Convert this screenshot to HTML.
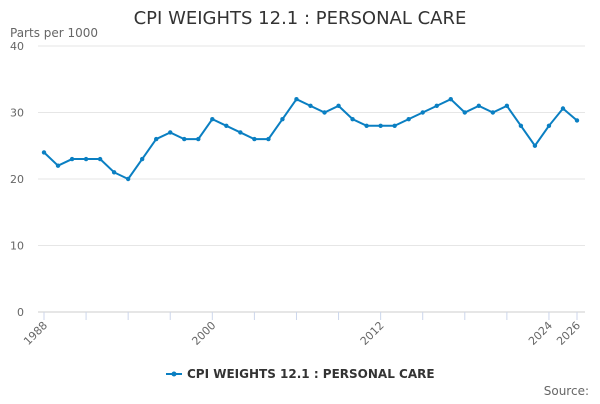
<!DOCTYPE html>
<html><head><meta charset="utf-8"><style>
body{margin:0;width:600px;height:400px;background:#fff;font-family:"DejaVu Sans","Liberation Sans",sans-serif;overflow:hidden}
svg text{font-family:"DejaVu Sans","Liberation Sans",sans-serif}
</style></head><body>
<svg id="chart" width="600" height="400">
<text x="300" y="24" text-anchor="middle" font-size="18" fill="#333">CPI WEIGHTS 12.1 : PERSONAL CARE</text>
<text x="10" y="37" font-size="12" fill="#666">Parts per 1000</text>
<g id="grid"></g><g id="xaxis"></g><g id="series"></g>
<g>
<line x1="166" y1="374" x2="182" y2="374" stroke="#0a7fc2" stroke-width="2"/>
<circle cx="174" cy="374" r="2.5" fill="#0a7fc2"/>
<text x="187" y="378" font-size="12" font-weight="bold" fill="#333">CPI WEIGHTS 12.1 : PERSONAL CARE</text>
</g>
<text x="589" y="395" text-anchor="end" font-size="12" fill="#666">Source:</text>
</svg>
<script>
const years=[1988,1989,1990,1991,1992,1993,1994,1995,1996,1997,1998,1999,2000,2001,2002,2003,2004,2005,2006,2007,2008,2009,2010,2011,2012,2013,2014,2015,2016,2017,2018,2019,2020,2021,2022,2023,2024,2025,2026];
const values=[24,22,23,23,23,21,20,23,26,27,26,26,29,28,27,26,26,29,32,31,30,31,29,28,28,28,29,30,31,32,30,31,30,31,28,25,28,30.6,28.8];
const yTicks=[0,10,20,30,40];
const xLabels=[1988,2000,2012,2024,2026];
const xTicks=[1988,1991,1994,1997,2000,2003,2006,2009,2012,2015,2018,2021,2024,2026];
const NS="http://www.w3.org/2000/svg";
const x=v=>44+(v-1988)*(533/38);
const y=v=>312-v*6.65;
function mk(t,a,p){const e=document.createElementNS(NS,t);for(const k in a)e.setAttribute(k,a[k]);p.appendChild(e);return e;}
const g=document.getElementById('grid');
yTicks.forEach(v=>{
const l=mk('line',{x1:38,x2:585,y1:y(v),y2:y(v),stroke:v===0?'#ccc':'#e6e6e6'},g);


const t=mk('text',{x:24,y:y(v)+4,'text-anchor':'end','font-size':11,fill:'#666'},g);t.textContent=v;


});
const xa=document.getElementById('xaxis');
xTicks.forEach(v=>{const l=mk('line',{x1:x(v),x2:x(v),y1:312,y2:320,stroke:'#ccd6eb'},xa);

});
xLabels.forEach(v=>{const t=mk('text',{x:x(v)+4,y:326,'text-anchor':'end','font-size':11,fill:'#666',transform:`rotate(-45 ${x(v)+4} 326)`},xa);t.textContent=v;

});
const s=document.getElementById('series');
const p=mk('polyline',{points:years.map((yr,i)=>x(yr)+','+y(values[i])).join(' '),fill:'none',stroke:'#0a7fc2','stroke-width':2},s);


years.forEach((yr,i)=>{const c=mk('circle',{cx:x(yr),cy:y(values[i]),r:2.2,fill:'#0a7fc2'},s);

});
</script>
</body></html>
